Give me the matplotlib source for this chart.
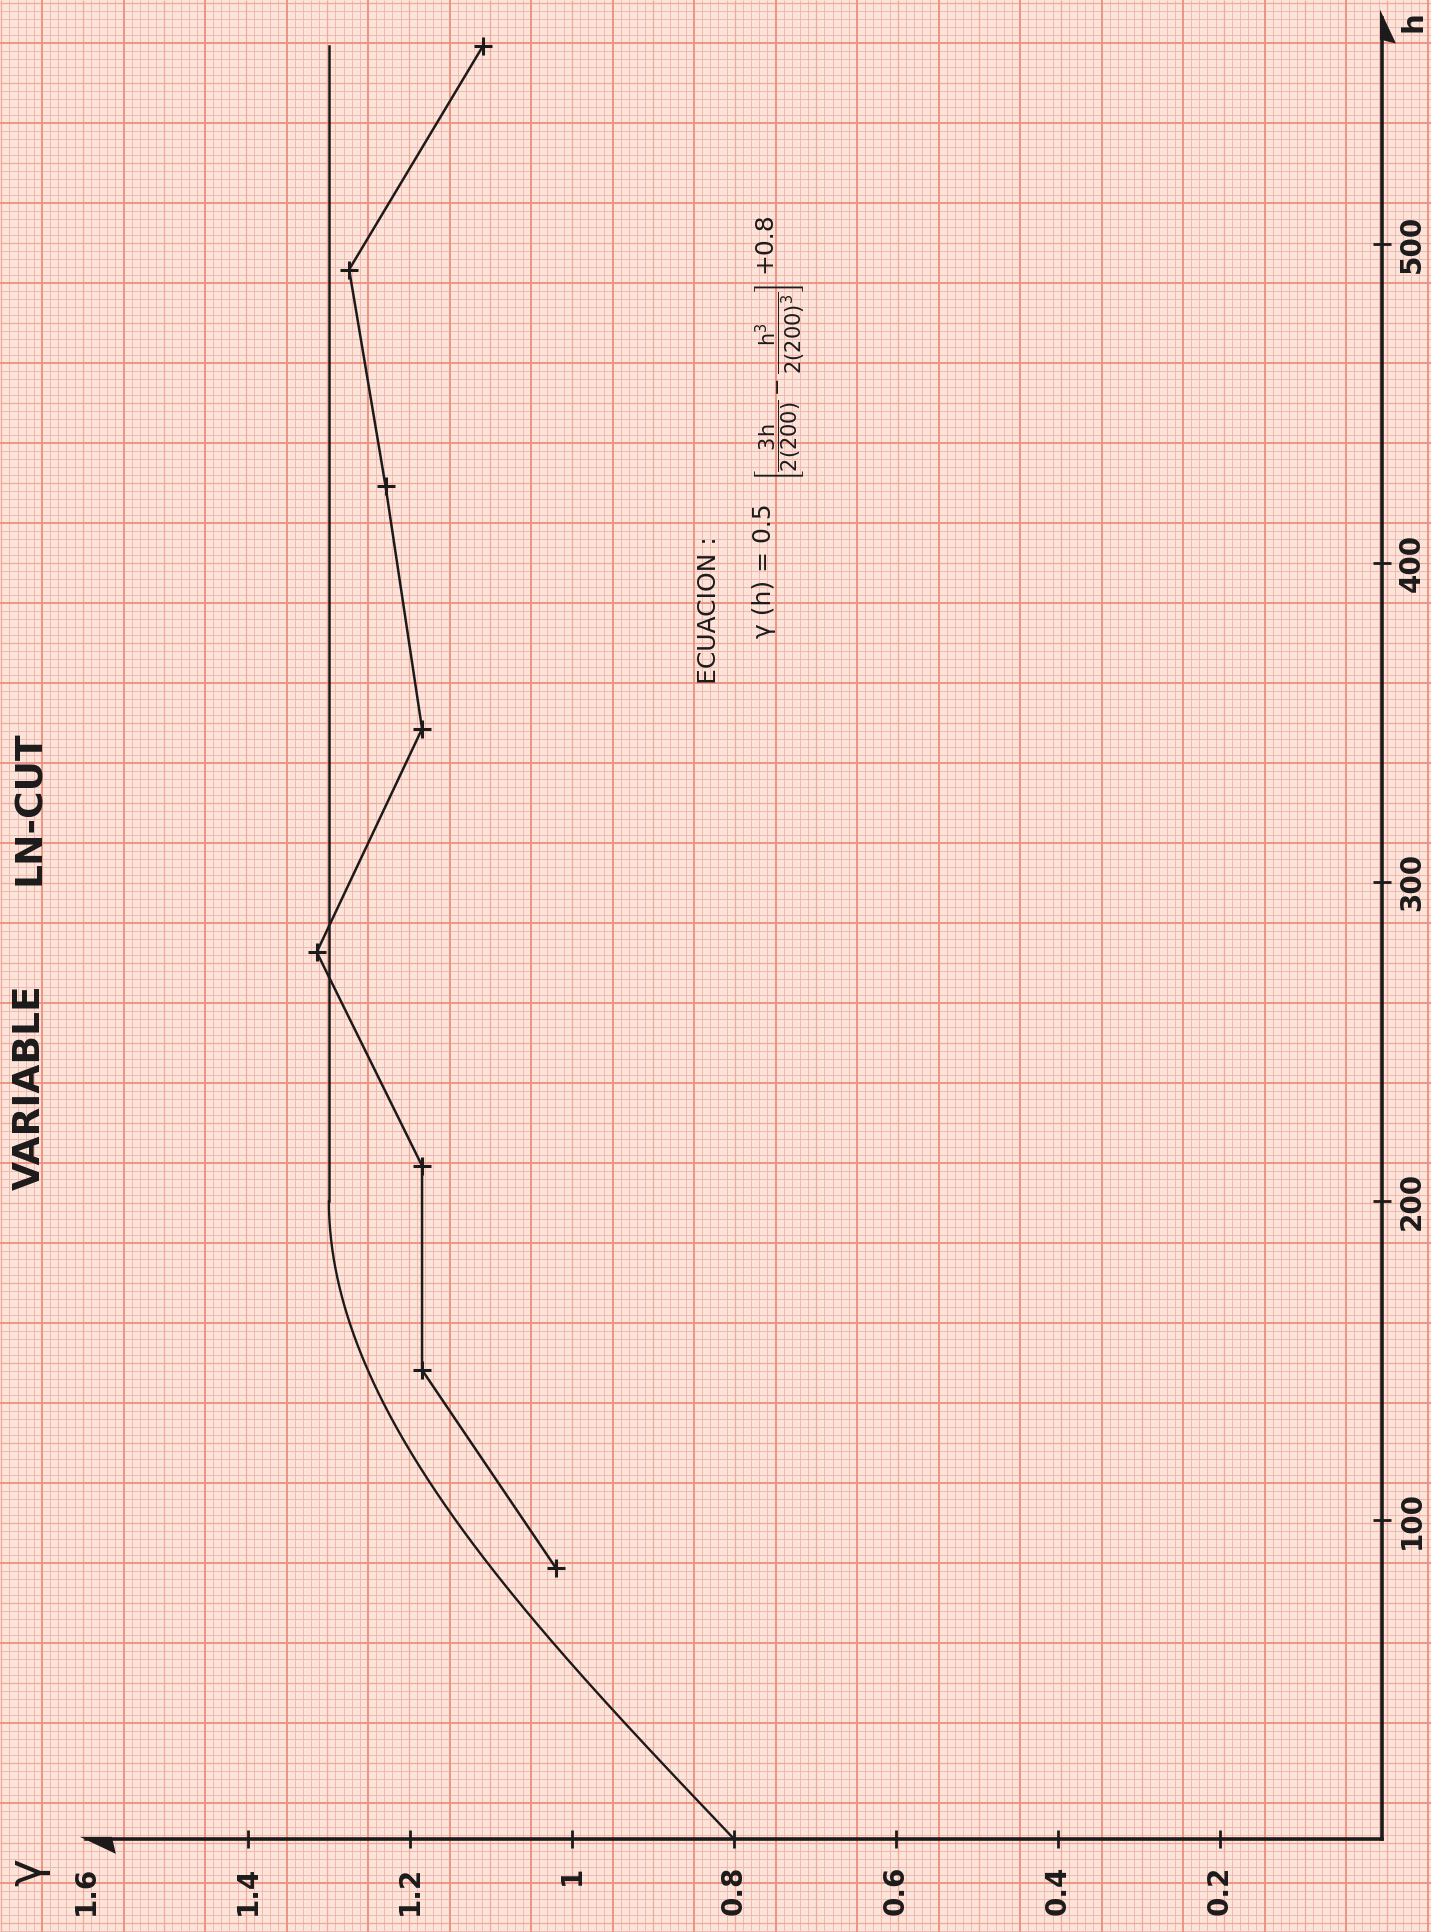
import numpy as np
import matplotlib
matplotlib.use("Agg")
import matplotlib.pyplot as plt
from matplotlib.collections import LineCollection
from matplotlib.patches import Polygon

plt.rcParams['font.family'] = ['DejaVu Sans']
plt.rcParams['mathtext.fontset'] = 'dejavusans'
plt.rcParams['mathtext.default'] = 'regular'

# Experimental semivariogram (lag h, gamma)
lag_h = [85, 147, 211, 278, 348, 424, 492, 562]
gamma_exp = [1.02, 1.185, 1.185, 1.315, 1.185, 1.23, 1.275, 1.11]

# Spherical model parameters printed in the equation
nugget = 0.8
partial_sill = 0.5
model_range = 200
sill_end_h = 562

gamma_ticks = [0.2, 0.4, 0.6, 0.8, 1.0, 1.2, 1.4, 1.6]
gamma_ticklabels = ['0.2', '0.4', '0.6', '0.8', '1', '1.2', '1.4', '1.6']
h_ticks = [100, 200, 300, 400, 500]
h_ticklabels = ['100', '200', '300', '400', '500']

W, H = 1431, 1932
INK = '#1c1a1a'
PAPER = '#fbe5da'

fig = plt.figure(figsize=(W / 100, H / 100), dpi=100)
fig.patch.set_facecolor(PAPER)

# --- millimetre graph paper in pixel space ---
bg = fig.add_axes([0, 0, 1, 1])
bg.set_xlim(0, W)
bg.set_ylim(H, 0)
bg.axis('off')


def paper_lines(step_x, off_x, step_y, off_y, sub):
    fine, mid, major = [], [], []
    k = int(np.floor(-off_x / (step_x / sub))) - 1
    while True:
        x = off_x + k * step_x / sub
        if x > W + 2:
            break
        seg = [(x, 0), (x, H)]
        if k % sub == 0:
            major.append(seg)
        elif k % (sub // 2) == 0:
            mid.append(seg)
        else:
            fine.append(seg)
        k += 1
    k = int(np.floor(-off_y / (step_y / sub))) - 1
    while True:
        y = off_y + k * step_y / sub
        if y > H + 2:
            break
        seg = [(0, y), (W, y)]
        if k % sub == 0:
            major.append(seg)
        elif k % (sub // 2) == 0:
            mid.append(seg)
        else:
            fine.append(seg)
        k += 1
    return fine, mid, major


fine, mid, major = paper_lines(81.5, 42, 80.0, 43, 10)
bg.add_collection(LineCollection(fine, colors='#f3b9ae', linewidths=0.72))
bg.add_collection(LineCollection(mid, colors='#f1a99c', linewidths=0.95))
bg.add_collection(LineCollection(major, colors='#ee9383', linewidths=1.4))

# --- data axes: gamma runs leftwards, h runs upwards ---
ax = fig.add_axes([0, 0, 1, 1])
ax.patch.set_alpha(0)
GX = (1.706, -0.0605)
HY = (-29.2, 576.5)
ax.set_xlim(*GX)
ax.set_ylim(*HY)


def to_px(g, h):
    x = (GX[0] - g) / (GX[0] - GX[1]) * W
    y = (HY[1] - h) / (HY[1] - HY[0]) * H
    return x, y


for s in ['top', 'left']:
    ax.spines[s].set_visible(False)
h_axis_top = 571
ax.spines['right'].set_position(('data', 0))
ax.spines['right'].set_bounds(0, h_axis_top)
ax.spines['bottom'].set_position(('data', 0))
ax.spines['bottom'].set_bounds(0, 1.6)
for s in ['right', 'bottom']:
    ax.spines[s].set_linewidth(2.6)
    ax.spines[s].set_color(INK)
    ax.spines[s].set_capstyle('projecting')

ax.xaxis.set_ticks_position('bottom')
ax.set_xticks(gamma_ticks)
ax.set_xticklabels(gamma_ticklabels)
ax.tick_params(axis='x', direction='inout', length=13, width=2, color=INK,
               pad=13, labelsize=20, labelrotation=90, labelcolor=INK)
ax.xaxis.get_major_ticks()[-1].tick1line.set_visible(False)

ax.yaxis.set_ticks_position('right')
ax.set_yticks(h_ticks)
ax.set_yticklabels(h_ticklabels)
ax.tick_params(axis='y', direction='inout', length=13, width=2, color=INK,
               pad=5, labelsize=20, labelrotation=90, labelcolor=INK)
for lbl in ax.get_yticklabels():
    lbl.set_va('center')
    lbl.set_fontweight('bold')
for lbl in ax.get_xticklabels():
    lbl.set_fontweight('bold')

# spherical model curve and sill
hm = np.linspace(0, model_range, 200)
gm = nugget + partial_sill * (1.5 * hm / model_range - 0.5 * (hm / model_range) ** 3)
ax.plot(gm, hm, color=INK, lw=1.7, solid_capstyle='round')
ax.plot([nugget + partial_sill] * 2, [model_range, sill_end_h], color=INK, lw=1.8)

# experimental points
ax.plot(gamma_exp, lag_h, color=INK, lw=1.8, marker='+', ms=13, mew=2.2)

# axis arrowheads (half barbs)
tx, ty = to_px(0, h_axis_top)
bg.add_patch(Polygon([(tx - 2, ty - 8), (tx + 14, ty + 26), (tx - 2, ty + 22)],
                     closed=True, color=INK, lw=0, zorder=5))
lx, ly = to_px(1.6, 0)
bg.add_patch(Polygon([(lx - 6, ly - 2), (lx + 30, ly + 15), (lx + 26, ly - 2)],
                     closed=True, color=INK, lw=0, zorder=5))

# axis names
bg.text(1414, 22, 'h', rotation=90, ha='center', va='center', fontsize=21,
        fontweight='bold', color=INK)
bg.text(28, 1872, 'γ', rotation=90, ha='center', va='center', fontsize=34,
        color=INK)

# title
bg.text(30, 1087, 'VARIABLE', rotation=90, ha='center', va='center',
        fontsize=27, fontweight='bold', color=INK)
bg.text(30, 808, 'LN-CUT', rotation=90, ha='center', va='center',
        fontsize=27, fontweight='bold', color=INK)

# model equation
bg.text(709, 610, 'ECUACION :', rotation=90, ha='center', va='center',
        fontsize=18, color=INK)
bg.text(764, 571, 'γ (h) = 0.5', rotation=90, ha='center', va='center',
        fontsize=18, color=INK)
eq = r'$\left[\dfrac{3h}{2(200)}-\dfrac{h^{3}}{2(200)^{3}}\right]$'
bg.text(781, 382, eq, rotation=90, ha='center', va='center', fontsize=15, color=INK)
bg.text(764, 243, '+0.8', rotation=90, ha='center', va='center',
        fontsize=18, color=INK)

fig.savefig('out.png', dpi=100, facecolor=PAPER)
